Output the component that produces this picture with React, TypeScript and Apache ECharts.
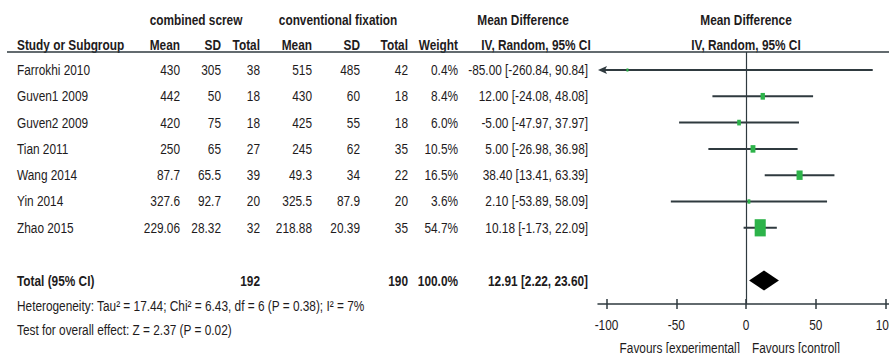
import React, { useEffect, useRef } from 'react';
import * as echarts from 'echarts';

const studies = ['Farrokhi 2010', 'Guven1 2009', 'Guven2 2009', 'Tian 2011', 'Wang 2014', 'Yin 2014', 'Zhao 2015'];
const expMean = [430, 442, 420, 250, 87.7, 327.6, 229.06];
const expSD = [305, 50, 75, 65, 65.5, 92.7, 28.32];
const expTotal = [38, 18, 18, 27, 39, 20, 32];
const ctrlMean = [515, 430, 425, 245, 49.3, 325.5, 218.88];
const ctrlSD = [485, 60, 55, 62, 34, 87.9, 20.39];
const ctrlTotal = [42, 18, 18, 35, 22, 20, 35];
const weights = [0.4, 8.4, 6.0, 10.5, 16.5, 3.6, 54.7];
const md = [-85.0, 12.0, -5.0, 5.0, 38.4, 2.1, 10.18];
const ciLow = [-260.84, -24.08, -47.97, -26.98, 13.41, -53.89, -1.73];
const ciHigh = [90.84, 48.08, 37.97, 36.98, 63.39, 58.09, 22.09];
const pooled = { md: 12.91, low: 2.22, high: 23.6, expTotal: 192, ctrlTotal: 190, weight: 100.0 };
const xTicks = [-100, -50, 0, 50, 100];
const heterogeneity = 'Heterogeneity: Tau² = 17.44; Chi² = 6.43, df = 6 (P = 0.38); I² = 7%';
const overall = 'Test for overall effect: Z = 2.37 (P = 0.02)';

const FONT = '"Liberation Sans", Arial, sans-serif';
const FS = 15;
const SX = 0.79;
const TXT = '#1e1b1c';
const LINE = '#2f3a3f';
const GREEN = '#2db34a';

const ROW0 = 70;
const ROWH = 26.3;
const rowY = (i: number) => ROW0 + ROWH * i;
const GRID_TOP = 52;
const AXIS_Y = 304;
const X_MIN = -106.1;
const X_MAX = 102.5;
const Y_MIN = (GRID_TOP - ROW0) / ROWH;
const Y_MAX = (AXIS_Y - ROW0) / ROWH;

const f2 = (v: number) => v.toFixed(2);
const ciText = (m: number, l: number, h: number) => `${f2(m)} [${f2(l)}, ${f2(h)}]`;

function txt(x: number, y: number, text: string, align: 'left' | 'right' | 'center' = 'right', bold = false, size = FS) {
  return {
    type: 'text',
    x,
    y,
    scaleX: SX,
    style: {
      text,
      x: 0,
      y: 0,
      align,
      verticalAlign: 'middle',
      fill: TXT,
      font: `${bold ? 'bold ' : ''}${size}px ${FONT}`,
    },
    silent: true,
  };
}

export default function App() {
  const ref = useRef<HTMLDivElement>(null);
  useEffect(() => {
    const chart = echarts.init(ref.current!, null, { renderer: 'svg' });

    const graphics: any[] = [];
    graphics.push(txt(196, 20, 'combined screw', 'center', true));
    graphics.push(txt(338, 20, 'conventional fixation', 'center', true));
    graphics.push(txt(523, 20, 'Mean Difference', 'center', true));
    graphics.push(txt(746, 20, 'Mean Difference', 'center', true));
    graphics.push(txt(17, 45, 'Study or Subgroup', 'left', true));
    graphics.push(txt(180, 45, 'Mean', 'right', true));
    graphics.push(txt(221, 45, 'SD', 'right', true));
    graphics.push(txt(260, 45, 'Total', 'right', true));
    graphics.push(txt(312, 45, 'Mean', 'right', true));
    graphics.push(txt(360, 45, 'SD', 'right', true));
    graphics.push(txt(408, 45, 'Total', 'right', true));
    graphics.push(txt(458, 45, 'Weight', 'right', true));
    graphics.push(txt(536, 45, 'IV, Random, 95% CI', 'center', true));
    graphics.push(txt(746, 45, 'IV, Random, 95% CI', 'center', true));
    graphics.push({
      type: 'line',
      shape: { x1: 7, y1: GRID_TOP, x2: 889, y2: GRID_TOP },
      style: { stroke: LINE, lineWidth: 1.5 },
      silent: true,
    });

    studies.forEach((s, i) => {
      const y = rowY(i);
      graphics.push(txt(17, y, s, 'left'));
      graphics.push(txt(180, y, String(expMean[i])));
      graphics.push(txt(221, y, String(expSD[i])));
      graphics.push(txt(260, y, String(expTotal[i])));
      graphics.push(txt(312, y, String(ctrlMean[i])));
      graphics.push(txt(360, y, String(ctrlSD[i])));
      graphics.push(txt(408, y, String(ctrlTotal[i])));
      graphics.push(txt(458, y, weights[i].toFixed(1) + '%'));
      graphics.push(txt(588, y, ciText(md[i], ciLow[i], ciHigh[i])));
    });
    const ty = rowY(8) + 1;
    graphics.push(txt(17, ty, 'Total (95% CI)', 'left', true));
    graphics.push(txt(260, ty, String(pooled.expTotal), 'right', true));
    graphics.push(txt(408, ty, String(pooled.ctrlTotal), 'right', true));
    graphics.push(txt(458, ty, pooled.weight.toFixed(1) + '%', 'right', true));
    graphics.push(txt(588, ty, ciText(pooled.md, pooled.low, pooled.high), 'right', true));
    graphics.push(txt(17, 306, heterogeneity, 'left'));
    graphics.push(txt(17, 330, overall, 'left'));
    graphics.push(txt(740, 348, 'Favours [experimental]', 'right'));
    graphics.push(txt(752, 348, 'Favours [control]', 'left'));

    const ciData = studies.map((s, i) => [ciLow[i], ciHigh[i], md[i], weights[i], i]);

    const option: any = {
      animation: false,
      backgroundColor: '#ffffff',
      grid: { left: 598, right: 0, top: GRID_TOP, bottom: 353 - AXIS_Y, containLabel: false },
      xAxis: [
        {
          type: 'value',
          min: X_MIN,
          max: X_MAX,
          position: 'bottom',
          splitLine: { show: false },
          axisLine: { show: true, onZero: false, lineStyle: { color: LINE, width: 1.5 } },
          axisTick: { show: true, length: 5, customValues: xTicks, lineStyle: { color: LINE, width: 1.5 } },
          axisLabel: { show: false },
        },
        {
          type: 'value',
          min: X_MIN,
          max: X_MAX,
          position: 'bottom',
          splitLine: { show: false },
          axisLine: { show: false, onZero: false },
          axisTick: { show: true, inside: true, length: 5, customValues: xTicks, lineStyle: { color: LINE, width: 1.5 } },
          axisLabel: { show: false },
        },
      ],
      yAxis: {
        type: 'value',
        inverse: true,
        min: Y_MIN,
        max: Y_MAX,
        show: false,
      },
      graphic: graphics,
      series: [
        {
          type: 'custom',
          xAxisIndex: 0,
          clip: false,
          data: ciData,
          renderItem: (params: any, api: any) => {
            const lo = api.value(0);
            const hi = api.value(1);
            const m = api.value(2);
            const w = api.value(3);
            const idx = api.value(4);
            const clipped = lo < X_MIN;
            const pL = api.coord([clipped ? X_MIN : lo, idx]);
            const pR = api.coord([Math.min(hi, X_MAX), idx]);
            const pM = api.coord([m, idx]);
            const children: any[] = [
              {
                type: 'line',
                shape: { x1: clipped ? pL[0] + 4 : pL[0], y1: pL[1], x2: pR[0], y2: pR[1] },
                style: { stroke: LINE, lineWidth: 2 },
              },
            ];
            if (clipped) {
              children.push({
                type: 'polygon',
                shape: { points: [[pL[0], pL[1]], [pL[0] + 9, pL[1] - 4], [pL[0] + 7, pL[1]], [pL[0] + 9, pL[1] + 4]] },
                style: { fill: LINE },
              });
            }
            const sw = Math.max(2, 1.5 * Math.sqrt(w));
            const sh = Math.max(3, sw * 1.55);
            children.push({
              type: 'rect',
              shape: { x: pM[0] - sw / 2, y: pM[1] - sh / 2, width: sw, height: sh },
              style: { fill: GREEN },
            });
            return { type: 'group', children };
          },
          markLine: {
            silent: true,
            symbol: 'none',
            label: { show: false },
            lineStyle: { color: LINE, width: 1.2, type: 'solid' },
            data: [{ xAxis: 0 }],
          },
          z: 3,
        },
        {
          type: 'custom',
          xAxisIndex: 0,
          clip: false,
          data: [[pooled.low, pooled.high, pooled.md, 8]],
          renderItem: (params: any, api: any) => {
            const idx = api.value(3);
            const pL = api.coord([api.value(0), idx]);
            const pR = api.coord([api.value(1), idx]);
            const pM = api.coord([api.value(2), idx]);
            const hh = 10;
            return {
              type: 'polygon',
              shape: { points: [[pL[0], pL[1]], [pM[0], pM[1] - hh], [pR[0], pR[1]], [pM[0], pM[1] + hh]] },
              style: { fill: '#000000' },
            };
          },
          z: 4,
        },
        {
          type: 'custom',
          xAxisIndex: 0,
          clip: false,
          silent: true,
          data: xTicks.map((v) => [v]),
          renderItem: (params: any, api: any) => {
            const v = api.value(0);
            const p = api.coord([v, Y_MAX]);
            return {
              type: 'text',
              x: p[0],
              y: p[1] + 21,
              scaleX: SX,
              style: {
                text: String(v),
                align: 'center',
                verticalAlign: 'middle',
                fill: TXT,
                font: `${FS}px ${FONT}`,
              },
            };
          },
          z: 5,
        },
      ],
    };
    chart.setOption(option);
    return () => chart.dispose();
  }, []);
  return <div ref={ref} style={{ position: 'fixed', left: 0, top: 0, width: 889, height: 353 }} />;
}
